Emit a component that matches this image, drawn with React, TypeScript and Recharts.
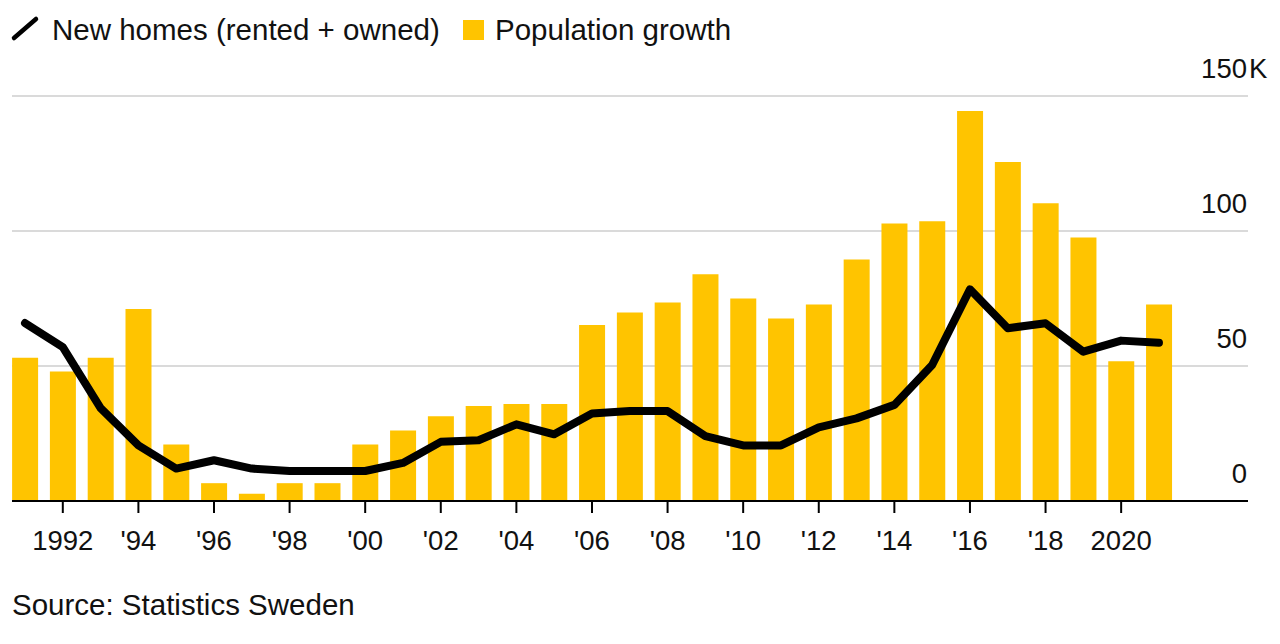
import React from 'react';
import { ComposedChart, Bar, Line, XAxis, YAxis, CartesianGrid } from 'recharts';

const years = [
  1991, 1992, 1993, 1994, 1995, 1996, 1997, 1998, 1999, 2000,
  2001, 2002, 2003, 2004, 2005, 2006, 2007, 2008, 2009, 2010,
  2011, 2012, 2013, 2014, 2015, 2016, 2017, 2018, 2019, 2020, 2021,
];

// Population growth, thousands
const populationGrowth = [
  53.1, 48.0, 53.1, 71.1, 20.9, 6.6, 2.7, 6.6, 6.6, 20.9,
  26.1, 31.4, 35.2, 35.9, 35.9, 65.2, 69.8, 73.5, 84.0, 75.0,
  67.6, 72.8, 89.4, 102.8, 103.6, 144.4, 125.6, 110.3, 97.6, 51.8, 72.8,
];

// New homes (rented + owned), thousands
const newHomes = [
  65.9, 57.0, 34.4, 20.6, 12.0, 15.1, 12.0, 11.1, 11.1, 11.1,
  14.1, 21.9, 22.5, 28.4, 24.7, 32.4, 33.3, 33.3, 24.0, 20.6,
  20.6, 27.3, 30.6, 35.6, 50.4, 78.4, 64.0, 65.8, 55.3, 59.4, 58.6,
];

const xTickYears = [1992, 1994, 1996, 1998, 2000, 2002, 2004, 2006, 2008, 2010, 2012, 2014, 2016, 2018, 2020];
const xTickLabels = ['1992', "'94", "'96", "'98", "'00", "'02", "'04", "'06", "'08", "'10", "'12", "'14", "'16", "'18", '2020'];
const yTicks = [0, 50, 100, 150];
const yTickLabels = ['0', '50', '100', '150'];
const yUnit = 'K';
const xDomain = [1990.656, 2023.356];

const seriesNames = ['New homes (rented + owned)', 'Population growth'];
const sourceText = 'Source: Statistics Sweden';

const YELLOW = '#ffc400';
const FONT = '"Liberation Sans", Arial, Helvetica, sans-serif';

const data = years.map((y, i) => ({
  year: y,
  pop: populationGrowth[i],
  homes: newHomes[i],
}));

const XTick = (props: any) => {
  const { x, y, payload } = props;
  const idx = xTickYears.indexOf(payload.value);
  const label = idx >= 0 ? xTickLabels[idx] : String(payload.value);
  return (
    <text x={x} y={y + 37} textAnchor="middle" fontSize={27.5} fontFamily={FONT} fill="#111">
      {label}
    </text>
  );
};

const YTick = (props: any) => {
  const { x, y, payload } = props;
  const idx = yTicks.indexOf(payload.value);
  const label = idx >= 0 ? yTickLabels[idx] : String(payload.value);
  const isTop = payload.value === yTicks[yTicks.length - 1];
  return (
    <g>
      <text x={x - 1} y={y - 18} textAnchor="end" fontSize={27.5} fontFamily={FONT} fill="#111">
        {label}
      </text>
      {isTop && (
        <text x={x + 1} y={y - 18} textAnchor="start" fontSize={27.5} fontFamily={FONT} fill="#111">
          {yUnit}
        </text>
      )}
    </g>
  );
};

export default function App() {
  return (
    <div style={{ position: 'absolute', left: 0, top: 0, width: 1280, height: 644, background: '#fff' }}>
      <ComposedChart
        width={1280}
        height={644}
        data={data}
        margin={{ top: 96, right: 0, bottom: 83, left: 12 }}
      >
        <CartesianGrid vertical={false} stroke="#dadada" strokeWidth={2} />
        <YAxis
          orientation="right"
          width={32}
          domain={[0, 150]}
          ticks={yTicks}
          axisLine={false}
          tickLine={false}
          tickSize={0}
          tickMargin={0}
          tick={<YTick />}
          interval={0}
        />
        <Bar dataKey="pop" fill={YELLOW} barSize={26} isAnimationActive={false} />
        <Line
          dataKey="homes"
          type="linear"
          stroke="#000"
          strokeWidth={8}
          strokeLinecap="round"
          strokeLinejoin="round"
          dot={false}
          activeDot={false}
          isAnimationActive={false}
        />
        <XAxis
          dataKey="year"
          type="number"
          domain={xDomain}
          ticks={xTickYears}
          interval={0}
          height={60}
          axisLine={{ stroke: '#000', strokeWidth: 2 }}
          tickLine={{ stroke: '#000', strokeWidth: 2 }}
          tickSize={12}
          tickMargin={0}
          tick={<XTick />}
          allowDataOverflow
        />
      </ComposedChart>
      <svg
        width={1280}
        height={644}
        style={{ position: 'absolute', left: 0, top: 0, pointerEvents: 'none' }}
      >
        <line x1={14} y1={38} x2={36} y2={19} stroke="#000" strokeWidth={4.5} strokeLinecap="round" />
        <text x={52} y={40} fontSize={29.5} fontFamily={FONT} fill="#111">
          {seriesNames[0]}
        </text>
        <rect x={463} y={20} width={21} height={20} fill={YELLOW} />
        <text x={495} y={40} fontSize={29.5} fontFamily={FONT} fill="#111">
          {seriesNames[1]}
        </text>
        <text x={12} y={615} fontSize={29.5} fontFamily={FONT} fill="#111">
          {sourceText}
        </text>
      </svg>
    </div>
  );
}
